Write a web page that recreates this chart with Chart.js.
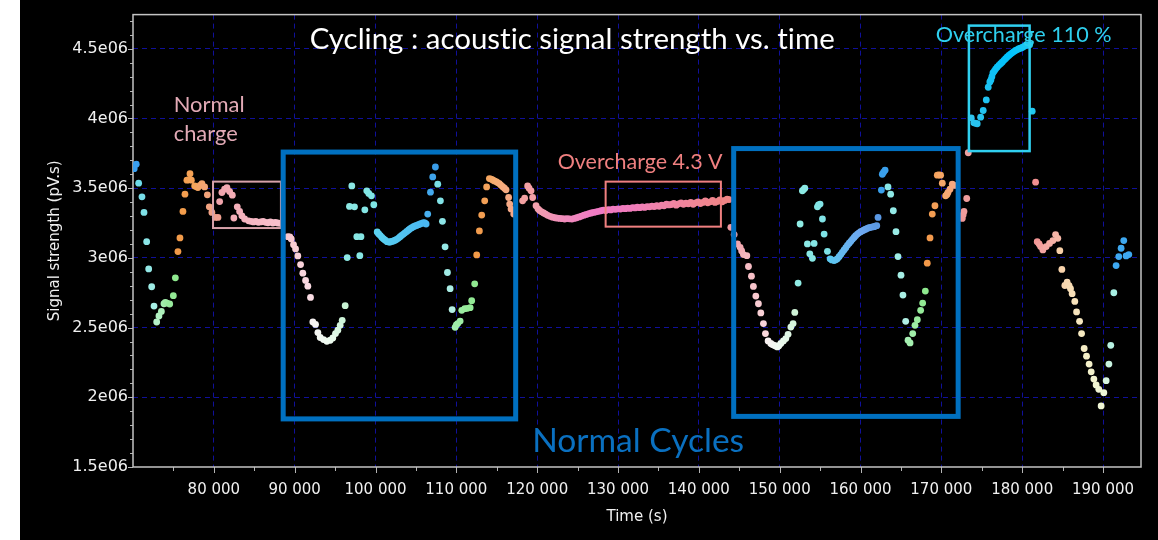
<!DOCTYPE html>
<html>
<head>
<meta charset="utf-8">
<script src="https://cdn.jsdelivr.net/npm/chart.js@4.4.1/dist/chart.umd.min.js"></script>
<style>
html,body{margin:0;padding:0;background:#fff;width:1158px;height:540px;overflow:hidden;}
#wrap{position:absolute;left:20px;top:0;width:1138px;height:540px;background:#000;}
canvas{display:block;}
</style>
</head>
<body>
<div id="wrap"><canvas id="c" width="1138" height="540"></canvas></div>
<script>
// ---------- tick labels ----------
const timeTicks = [80000, 90000, 100000, 110000, 120000, 130000, 140000, 150000, 160000, 170000, 180000, 190000];
const signalTicks = [1.5e6, 2e6, 2.5e6, 3e6, 3.5e6, 4e6, 4.5e6];

// ---------- data (time in s, signal strength in pV.s) ----------
const startBlueTime = [70150, 70400];
const startBlueSignal = [3.640e6, 3.672e6];
const preCyanTime = [70700, 71110, 71360, 71690, 71940, 72310, 72600];
const preCyanSignal = [3.536e6, 3.438e6, 3.326e6, 3.116e6, 2.921e6, 2.793e6, 2.654e6];
const preGreenTime = [72930, 73210, 73510, 73830, 74000, 74200, 74540, 74990, 75240];
const preGreenSignal = [2.540e6, 2.583e6, 2.616e6, 2.671e6, 2.680e6, 2.676e6, 2.669e6, 2.729e6, 2.857e6];
const preOrangeTime = [75560, 75810, 76180, 76430, 76670, 76850, 77050, 77220, 77630, 77850, 78030, 78300, 78530, 78860, 79200, 79440, 79760, 80180, 80510];
const preOrangeSignal = [3.045e6, 3.143e6, 3.333e6, 3.457e6, 3.557e6, 3.560e6, 3.604e6, 3.557e6, 3.516e6, 3.510e6, 3.504e6, 3.520e6, 3.533e6, 3.509e6, 3.452e6, 3.366e6, 3.326e6, 3.290e6, 3.290e6];
const chargeTime = [80720, 81000, 81330, 81620, 81950, 82290, 82480, 82900, 83190, 83470, 83810, 84300, 84600, 84900, 85200, 85500, 85800, 86100, 86400, 86700, 87000, 87300, 87600, 87900, 88200];
const chargeSignal = [3.404e6, 3.469e6, 3.493e6, 3.504e6, 3.476e6, 3.450e6, 3.286e6, 3.366e6, 3.333e6, 3.302e6, 3.279e6, 3.266e6, 3.262e6, 3.258e6, 3.262e6, 3.255e6, 3.258e6, 3.262e6, 3.255e6, 3.252e6, 3.258e6, 3.250e6, 3.255e6, 3.250e6, 3.248e6];

// cycle 1
const c1PinkTime = [89160, 89400, 89580, 89860, 90110, 90390, 90730, 91010, 91350, 91630, 91960];
const c1PinkSignal = [3.152e6, 3.150e6, 3.136e6, 3.095e6, 3.064e6, 3.014e6, 2.952e6, 2.890e6, 2.838e6, 2.797e6, 2.716e6];
const c1WhiteTime = [92250, 92580, 92870, 93160, 93570, 93980, 94400, 94720, 95050, 95340, 95630, 95880, 96250];
const c1WhiteSignal = [2.540e6, 2.523e6, 2.464e6, 2.429e6, 2.414e6, 2.402e6, 2.409e6, 2.426e6, 2.457e6, 2.481e6, 2.516e6, 2.552e6, 2.657e6];
const c1CyanTime = [96500, 96780, 97070, 97400, 97690, 98060, 98200, 98680, 98920, 99170, 99500, 99790];
const c1CyanSignal = [3.002e6, 3.369e6, 3.516e6, 3.366e6, 3.152e6, 3.016e6, 3.152e6, 3.345e6, 3.481e6, 3.462e6, 3.445e6, 3.381e6];
const c1SkyTime = [100210, 100400, 100600, 100800, 101000, 101200, 101440, 101650, 101810, 102000, 102220, 102430, 102630, 102850, 103050, 103250, 103460, 103650, 103870, 104100, 104290, 104500, 104700, 104900, 105100, 105300, 105520, 105730, 105930, 106100, 106260];
const c1SkySignal = [3.186e6, 3.172e6, 3.160e6, 3.147e6, 3.136e6, 3.127e6, 3.116e6, 3.114e6, 3.114e6, 3.118e6, 3.121e6, 3.127e6, 3.133e6, 3.142e6, 3.152e6, 3.162e6, 3.171e6, 3.180e6, 3.190e6, 3.200e6, 3.209e6, 3.217e6, 3.224e6, 3.229e6, 3.233e6, 3.238e6, 3.243e6, 3.248e6, 3.252e6, 3.250e6, 3.243e6];
const c1PeakTime = [106460, 106800, 107080, 107410];
const c1PeakSignal = [3.314e6, 3.471e6, 3.581e6, 3.652e6];
const c1DescTime = [107700, 108030, 108280, 108610, 108900, 109230, 109480];
const c1DescSignal = [3.529e6, 3.409e6, 3.262e6, 3.079e6, 2.895e6, 2.779e6, 2.629e6];
const c1GreenTime = [109850, 110000, 110170, 110470, 110670, 111040, 111370, 111710, 111900, 112270];
const c1GreenSignal = [2.502e6, 2.520e6, 2.529e6, 2.547e6, 2.624e6, 2.636e6, 2.638e6, 2.643e6, 2.693e6, 2.814e6];
const c1OrangeTime = [112520, 112850, 113140, 113510, 113750, 114090, 114300, 114500, 114700, 114920, 115100, 115320, 115500, 115730, 115950, 116150, 116470, 116600, 116770, 117100];
const c1OrangeSignal = [3.021e6, 3.193e6, 3.307e6, 3.409e6, 3.509e6, 3.569e6, 3.565e6, 3.559e6, 3.552e6, 3.547e6, 3.540e6, 3.533e6, 3.522e6, 3.511e6, 3.500e6, 3.488e6, 3.433e6, 3.386e6, 3.350e6, 3.314e6];

// overcharge 4.3 V
const ocTransTime = [118200, 118450, 118820, 119000, 119240, 119440];
const ocTransSignal = [3.409e6, 3.428e6, 3.516e6, 3.500e6, 3.481e6, 3.433e6];
const ocVoltTime = [119860, 120100, 120300, 120550, 120800, 121050, 121300, 121600, 121900, 122200, 122500, 122800, 123100, 123400, 123700, 124000, 124300, 124600, 124900, 125200, 125500, 125800, 126100, 126400, 126700, 127000, 127300, 127600, 127900, 128200, 128500, 128800, 129100, 129400, 129700, 130000, 130300, 130600, 130900, 131200, 131500, 131800, 132100, 132400, 132700, 133000, 133300, 133600, 133900, 134200, 134500, 134800, 135100, 135400, 135700, 136000, 136300, 136600, 136900, 137200, 137500, 137800, 138100, 138400, 138700, 139000, 139300, 139600, 139900, 140200, 140500, 140800, 141100, 141400, 141700, 142000, 142300, 142600, 142900, 143200, 143500, 143750];
const ocVoltSignal = [3.374e6, 3.352e6, 3.340e6, 3.330e6, 3.322e6, 3.314e6, 3.305e6, 3.298e6, 3.292e6, 3.288e6, 3.285e6, 3.283e6, 3.281e6, 3.279e6, 3.282e6, 3.280e6, 3.278e6, 3.283e6, 3.288e6, 3.294e6, 3.300e6, 3.306e6, 3.312e6, 3.318e6, 3.322e6, 3.326e6, 3.330e6, 3.334e6, 3.338e6, 3.342e6, 3.340e6, 3.346e6, 3.344e6, 3.350e6, 3.348e6, 3.352e6, 3.350e6, 3.355e6, 3.353e6, 3.357e6, 3.355e6, 3.360e6, 3.358e6, 3.363e6, 3.360e6, 3.366e6, 3.362e6, 3.368e6, 3.366e6, 3.371e6, 3.368e6, 3.374e6, 3.370e6, 3.378e6, 3.374e6, 3.386e6, 3.380e6, 3.383e6, 3.390e6, 3.378e6, 3.388e6, 3.395e6, 3.384e6, 3.392e6, 3.388e6, 3.398e6, 3.384e6, 3.395e6, 3.402e6, 3.390e6, 3.398e6, 3.408e6, 3.395e6, 3.402e6, 3.412e6, 3.398e6, 3.405e6, 3.416e6, 3.402e6, 3.412e6, 3.421e6, 3.418e6];

// cycle 2
const c2PinkTime = [143960, 144370, 144780, 145110, 145300, 145520, 145940, 146140, 146510, 146750, 147050, 147370, 147670, 147990, 148240];
const c2PinkSignal = [3.219e6, 3.167e6, 3.100e6, 3.076e6, 3.050e6, 3.024e6, 3.016e6, 2.938e6, 2.869e6, 2.795e6, 2.726e6, 2.671e6, 2.605e6, 2.529e6, 2.457e6];
const c2WhiteTime = [148570, 148900, 149100, 149310, 149500, 149720, 149900, 150140, 150460, 150760, 151040, 151380, 151660, 151870];
const c2WhiteSignal = [2.404e6, 2.386e6, 2.378e6, 2.373e6, 2.368e6, 2.361e6, 2.370e6, 2.386e6, 2.404e6, 2.421e6, 2.452e6, 2.504e6, 2.529e6, 2.609e6];
const c2CyanTime = [152280, 152530, 152810, 152950, 153110, 153430, 153730, 154050, 154260, 154670, 154800, 155000, 155290, 155500, 155910];
const c2CyanSignal = [2.819e6, 3.243e6, 3.481e6, 3.490e6, 3.500e6, 3.100e6, 3.029e6, 2.997e6, 3.104e6, 3.366e6, 3.380e6, 3.386e6, 3.279e6, 3.171e6, 3.047e6];
const c2SkyTime = [156240, 156450, 156730, 156950, 157140, 157350, 157560, 157750, 157970, 158180, 158380, 158600, 158800, 159000, 159210, 159400, 159620, 159820, 160030, 160240, 160440, 160650, 160850, 161050, 161270, 161480, 161680, 161850, 162010, 162170];
const c2SkySignal = [2.993e6, 2.985e6, 2.981e6, 2.986e6, 2.993e6, 3.008e6, 3.024e6, 3.040e6, 3.057e6, 3.073e6, 3.090e6, 3.105e6, 3.119e6, 3.133e6, 3.147e6, 3.159e6, 3.171e6, 3.180e6, 3.188e6, 3.194e6, 3.200e6, 3.206e6, 3.212e6, 3.216e6, 3.219e6, 3.222e6, 3.224e6, 3.228e6, 3.231e6, 3.290e6];
const c2PeakTime = [162580, 162700, 162850, 163040];
const c2PeakSignal = [3.486e6, 3.600e6, 3.615e6, 3.629e6];
const c2DescTime = [163400, 163730, 164060, 164390, 164640, 165010, 165250, 165590];
const c2DescSignal = [3.509e6, 3.457e6, 3.338e6, 3.188e6, 3.009e6, 2.876e6, 2.733e6, 2.545e6];
const c2GreenTime = [165880, 166130, 166460, 166740, 167030, 167440, 167690, 168020];
const c2GreenSignal = [2.409e6, 2.390e6, 2.457e6, 2.516e6, 2.557e6, 2.624e6, 2.676e6, 2.762e6];
const c2OrangeTime = [168260, 168600, 168880, 169210, 169500, 169700, 169910, 170120, 170530, 170700, 170820, 171070, 171350, 171600];
const c2OrangeSignal = [2.962e6, 3.143e6, 3.314e6, 3.374e6, 3.593e6, 3.596e6, 3.593e6, 3.536e6, 3.445e6, 3.455e6, 3.469e6, 3.493e6, 3.529e6, 3.520e6];
const c2SalmonTime = [172590, 172700, 172800, 173140, 173330];
const c2SalmonSignal = [3.283e6, 3.310e6, 3.333e6, 3.426e6, 3.754e6];

// overcharge 110 %
const oc110Time = [173700, 174030, 174250, 174440, 174860, 175180, 175560, 175800, 176000, 176130, 176250, 176380, 176550, 176710, 176900, 177120, 177330, 177530, 177740, 177940, 178150, 178360, 178560, 178770, 178980, 179180, 179400, 179600, 179800, 180010, 180200, 180420, 180650, 180920, 181240];
const oc110Signal = [4.004e6, 3.969e6, 3.965e6, 3.962e6, 4.009e6, 4.057e6, 4.133e6, 4.224e6, 4.262e6, 4.276e6, 4.300e6, 4.326e6, 4.340e6, 4.354e6, 4.368e6, 4.381e6, 4.393e6, 4.404e6, 4.417e6, 4.429e6, 4.441e6, 4.452e6, 4.462e6, 4.471e6, 4.480e6, 4.488e6, 4.494e6, 4.500e6, 4.504e6, 4.509e6, 4.516e6, 4.524e6, 4.527e6, 4.529e6, 4.052e6];

// after overcharge
const postSalmonTime = [181660, 181860, 182100, 182280, 182560, 182970, 183380, 183800, 184130, 184410];
const postSalmonSignal = [3.543e6, 3.116e6, 3.100e6, 3.081e6, 3.057e6, 3.081e6, 3.104e6, 3.124e6, 3.167e6, 3.140e6];
const postDescTime = [184660, 184910, 185280, 185560, 185800, 185980, 186180, 186510, 186730, 187100, 187350, 187670, 187960, 188280, 188540, 188870, 189150, 189480, 189770, 190100];
const postDescSignal = [3.052e6, 2.917e6, 2.802e6, 2.826e6, 2.800e6, 2.779e6, 2.743e6, 2.688e6, 2.612e6, 2.545e6, 2.457e6, 2.350e6, 2.295e6, 2.238e6, 2.183e6, 2.131e6, 2.088e6, 2.057e6, 1.938e6, 2.033e6];
const postMintTime = [190390, 190730, 190960, 191340];
const postMintSignal = [2.119e6, 2.238e6, 2.373e6, 2.750e6];
const endBlueTime = [191620, 191950, 192240, 192570, 192860, 193190];
const endBlueSignal = [2.945e6, 3.009e6, 3.069e6, 3.124e6, 3.014e6, 3.024e6];

// ---------- styling ----------
const segments = [
  [startBlueTime, startBlueSignal, ['#3a9ff0', '#3a9ff0']],
  [preCyanTime, preCyanSignal, ['#6ddbe9', '#a6efe4']],
  [preGreenTime, preGreenSignal, ['#b6f2c8', '#8ee88e']],
  [preOrangeTime, preOrangeSignal, ['#f29a48', '#f6a65c', '#f0a090']],
  [chargeTime, chargeSignal, ['#f0a4ac', '#f6b6c2', '#f8c0cc']],
  [c1PinkTime, c1PinkSignal, ['#f8c4cc', '#fadce4']],
  [c1WhiteTime, c1WhiteSignal, ['#f6f2f2', '#eefcf0', '#c8f2d4']],
  [c1CyanTime, c1CyanSignal, ['#8ee8e4', '#7ee4e4']],
  [c1SkyTime, c1SkySignal, ['#5cd2f0', '#4ab8f2']],
  [c1PeakTime, c1PeakSignal, ['#48b0f0', '#3a9ce8']],
  [c1DescTime, c1DescSignal, ['#78e0e8', '#b4f0e4']],
  [c1GreenTime, c1GreenSignal, ['#a4f0b0', '#90e890']],
  [c1OrangeTime, c1OrangeSignal, ['#f29a48', '#f6ae74', '#f6a88a']],
  [ocTransTime, ocTransSignal, ['#f2a0a0', '#f4a0a8']],
  [ocVoltTime, ocVoltSignal, ['#f2a0ac', '#f08cbc', '#f07ac4', '#f07cbc', '#f084a8', '#f08696', '#f08484']],
  [c2PinkTime, c2PinkSignal, ['#f09ca4', '#f6bcc4', '#fad8dc']],
  [c2WhiteTime, c2WhiteSignal, ['#f8f0f0', '#f2fcf2', '#d0f4d8']],
  [c2CyanTime, c2CyanSignal, ['#90ece4', '#7ee2e6']],
  [c2SkyTime, c2SkySignal, ['#5ccaf0', '#68b4f0', '#6ea8f0', '#5a98e4']],
  [c2PeakTime, c2PeakSignal, ['#3aa0ec', '#3aa0ec']],
  [c2DescTime, c2DescSignal, ['#88e8e8', '#b0f0e4']],
  [c2GreenTime, c2GreenSignal, ['#a8f0b4', '#8ee88e']],
  [c2OrangeTime, c2OrangeSignal, ['#f29848', '#f6a868', '#f6a880']],
  [c2SalmonTime, c2SalmonSignal, ['#f09898', '#f0a0a0']],
  [oc110Time, oc110Signal, ['#30c4ee', '#10c0f4', '#00c4ff', '#20c8f0']],
  [postSalmonTime, postSalmonSignal, ['#f29090', '#f4a8a4', '#f6b8a8']],
  [postDescTime, postDescSignal, ['#f8d0a8', '#f8e0b8', '#f4f0c8', '#eef6d8']],
  [postMintTime, postMintSignal, ['#d8f6e0', '#a8f0e4']],
  [endBlueTime, endBlueSignal, ['#3ea8f0', '#3ea8f0']]
];

function hexRgb(h) { return [parseInt(h.slice(1,3),16), parseInt(h.slice(3,5),16), parseInt(h.slice(5,7),16)]; }
function mixStops(stops, f) {
  if (stops.length === 1) return stops[0];
  const p = Math.max(0, Math.min(1, f)) * (stops.length - 1);
  const i = Math.min(Math.floor(p), stops.length - 2);
  const t = p - i;
  const a = hexRgb(stops[i]), b = hexRgb(stops[i+1]);
  return 'rgb(' + a.map((v, k) => Math.round(v + (b[k] - v) * t)).join(',') + ')';
}

const datasets = segments.map(([times, signals, stops]) => ({
  data: times.map((t, i) => ({x: t, y: signals[i]})),
  backgroundColor: (ctx) => mixStops(stops, ctx.dataIndex / Math.max(1, times.length - 1)),
  pointRadius: 3.4,
  pointBorderWidth: 0,
  showLine: false
}));

// ---------- axis tick positions (every 5 000 s / 0.1e06) ----------
const X_MIN = 70000, X_MAX = 194700, Y_MIN = 1.5e6, Y_MAX = 4.745e6;
const xTickValues = [];
for (let v = 70000; v <= 190000; v += 5000) xTickValues.push(v);
const yTickValues = [];
for (let k = 15; k <= 47; k++) yTickValues.push(k * 1e5);
const isTimeLabel = v => timeTicks.includes(v);
const isSignalLabel = v => signalTicks.some(s => Math.abs(s - v) < 1);

// ---------- annotations (data coordinates) ----------
const annotationBoxes = [
  {t0: 79900, t1: 88300, s0: 3.214e6, s1: 3.547e6, color: '#d8a2aa', width: 2},
  {t0: 128470, t1: 142730, s0: 3.224e6, s1: 3.547e6, color: '#f08080', width: 2},
  {t0: 173410, t1: 180920, s0: 3.766e6, s1: 4.666e6, color: '#30d0f0', width: 2.5},
  {t0: 88580, t1: 117340, s0: 1.845e6, s1: 3.759e6, color: '#0070c0', width: 5},
  {t0: 144310, t1: 172080, s0: 1.863e6, s1: 3.784e6, color: '#0070c0', width: 5}
];
const annotationTexts = [
  {text: 'Cycling : acoustic signal strength vs. time', t: 124330, s: 4.5757e6, w: 525, color: '#ffffff', align: 'center'},
  {text: 'Normal', t: 75035, s: 4.1057e6, w: 71, color: '#e2aab6', align: 'left'},
  {text: 'charge', t: 75035, s: 3.8964e6, w: 64, color: '#e2aab6', align: 'left'},
  {text: 'Overcharge 4.3 V', t: 132741, s: 3.6914e6, w: 165, color: '#f08080', align: 'center'},
  {text: 'Overcharge 110 %', t: 180180, s: 4.6036e6, w: 176, color: '#2ecfee', align: 'center'},
  {text: 'Normal Cycles', t: 132494, s: 1.6971e6, w: 212, color: '#0a70c0', align: 'center'}
];

const frameAndTicks = {
  id: 'frameAndTicks',
  beforeDatasetsDraw(chart) {
    const {ctx, chartArea: a, scales: {x, y}} = chart;
    ctx.save();
    ctx.strokeStyle = '#b4b4b4';
    ctx.lineWidth = 1;
    ctx.beginPath();
    x.ticks.forEach(tk => {
      if (tk.value === X_MIN) return;
      const px = Math.round(x.getPixelForValue(tk.value)) + 0.5;
      const len = isTimeLabel(tk.value) ? 6 : 4;
      ctx.moveTo(px, a.bottom); ctx.lineTo(px, a.bottom + len);
    });
    y.ticks.forEach(tk => {
      const py = Math.round(y.getPixelForValue(tk.value)) + 0.5;
      const len = isSignalLabel(tk.value) ? 5 : 3;
      ctx.moveTo(a.left, py); ctx.lineTo(a.left - len, py);
    });
    ctx.stroke();
    ctx.strokeStyle = '#c4c4c4';
    ctx.lineWidth = 1.5;
    ctx.strokeRect(a.left, a.top, a.right - a.left, a.bottom - a.top);
    ctx.restore();
  }
};

const annotationsPlugin = {
  id: 'annotationsPlugin',
  afterDatasetsDraw(chart) {
    const {ctx, scales: {x, y}} = chart;
    ctx.save();
    annotationBoxes.forEach(b => {
      const l = x.getPixelForValue(b.t0), r = x.getPixelForValue(b.t1);
      const t = y.getPixelForValue(b.s1), btm = y.getPixelForValue(b.s0);
      ctx.strokeStyle = b.color;
      ctx.lineWidth = b.width;
      ctx.lineJoin = 'miter';
      ctx.strokeRect(l, t, r - l, btm - t);
    });
    if ('textRendering' in ctx) ctx.textRendering = 'optimizeSpeed';
    annotationTexts.forEach(tx => {
      ctx.font = '100px Lato';
      const m = ctx.measureText(tx.text).width;
      const size = 100 * tx.w / m;
      ctx.font = size.toFixed(2) + 'px Lato';
      ctx.fillStyle = tx.color;
      ctx.textAlign = tx.align;
      ctx.textBaseline = 'alphabetic';
      const cx = x.getPixelForValue(tx.t);
      const cy = y.getPixelForValue(tx.s);
      ctx.fillText(tx.text, cx, cy + 0.36 * size);
    });
    ctx.restore();
  }
};

const gridColor = '#10109a';
const fmtTime = v => String(v).replace(/\B(?=(\d{3})+(?!\d))/g, ' ');
const fmtSignal = v => (v / 1e6) + 'e06';

new Chart(document.getElementById('c'), {
  type: 'scatter',
  data: {datasets},
  options: {
    responsive: false,
    animation: false,
    events: [],
    layout: {padding: {left: 0, right: 17, top: 13, bottom: 0}},
    plugins: {legend: {display: false}, tooltip: {enabled: false}, title: {display: false}},
    scales: {
      x: {
        type: 'linear', position: 'bottom', min: X_MIN, max: X_MAX,
        afterFit: s => { s.height = 73; },
        afterBuildTicks: s => { s.ticks = xTickValues.map(v => ({value: v})); },
        grid: {
          drawTicks: false,
          lineWidth: 1,
          color: c => (c.tick && isTimeLabel(c.tick.value) ? gridColor : 'rgba(0,0,0,0)')
        },
        border: {display: false, dash: [5, 4]},
        ticks: {
          autoSkip: false, maxRotation: 0, minRotation: 0,
          padding: 14, color: '#f0f0f0', font: {family: 'DejaVu Sans', size: 15},
          callback: v => (isTimeLabel(v) ? fmtTime(v) : '')
        },
        title: {display: true, text: 'Time (s)', color: '#f0f0f0', font: {family: 'DejaVu Sans', size: 15}, padding: {top: 0, bottom: 14}}
      },
      y: {
        type: 'linear', position: 'left', min: Y_MIN, max: Y_MAX,
        afterFit: s => { s.width = 113; },
        afterBuildTicks: s => { s.ticks = yTickValues.map(v => ({value: v})); },
        grid: {
          drawTicks: false,
          lineWidth: 1,
          color: c => (c.tick && isSignalLabel(c.tick.value) && c.tick.value > Y_MIN + 1 ? gridColor : 'rgba(0,0,0,0)')
        },
        border: {display: false, dash: [5, 4]},
        ticks: {
          autoSkip: false,
          padding: 5, color: '#f0f0f0', font: {family: 'DejaVu Sans', size: 16},
          callback: v => (isSignalLabel(v) ? fmtSignal(v) : '')
        },
        title: {display: true, text: 'Signal strength (pV.s)', color: '#f0f0f0', font: {family: 'DejaVu Sans', size: 15}, padding: {top: 26, bottom: 0}}
      }
    }
  },
  plugins: [frameAndTicks, annotationsPlugin]
});
</script>
</body>
</html>
